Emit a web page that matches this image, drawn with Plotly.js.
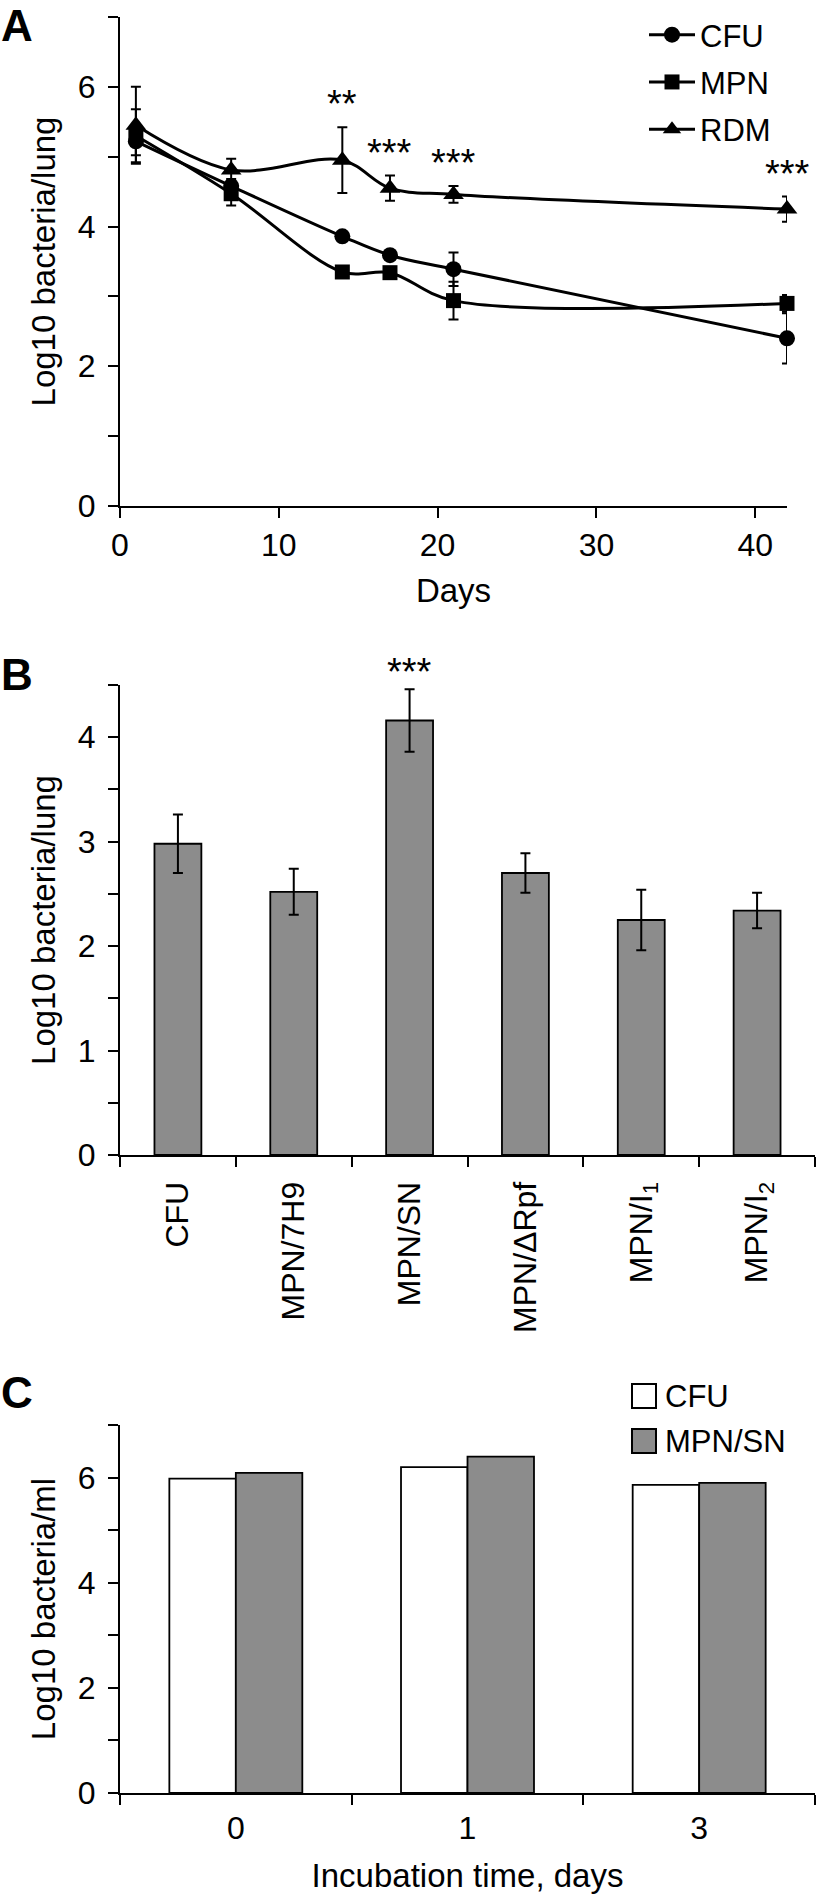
<!DOCTYPE html>
<html>
<head>
<meta charset="utf-8">
<script src="https://cdn.plot.ly/plotly-3.0.1.min.js"></script>
<style>
  html, body { margin: 0; padding: 0; background: #fff; }
  #chart { width: 819px; height: 1894px; }
</style>
</head>
<body>
<div id="chart"></div>
<script>
// ---------- Panel A data ----------
const days = [1, 7, 14, 17, 21, 42];
const cfuA = [5.22, 4.58, 3.86, 3.59, 3.39, 2.40];
const cfuAErr = [0.20, 0.10, 0.05, 0.05, 0.24, 0.36];
const mpnA = [5.30, 4.47, 3.35, 3.34, 2.94, 2.90];
const mpnAErr = [0.38, 0.17, 0.05, 0.05, 0.27, 0.12];
const rdmA = [5.45, 4.81, 4.95, 4.55, 4.46, 4.25];
const rdmAErr = [0.55, 0.16, 0.47, 0.18, 0.12, 0.18];
const seriesNamesA = ['CFU', 'MPN', 'RDM'];
const sigDaysA = [14, 17, 21, 42];
const sigTextA = ['**', '***', '***', '***'];
const xTicksA = [0, 10, 20, 30, 40];
const yTicksA = [0, 1, 2, 3, 4, 5, 6, 7];
const yTickTextA = ['0', '', '2', '', '4', '', '6', ''];

// ---------- Panel B data ----------
const catsB = ['CFU', 'MPN/7H9', 'MPN/SN', 'MPN/ΔRpf', 'MPN/I<sub>1</sub>', 'MPN/I<sub>2</sub>'];
const valsB = [2.98, 2.52, 4.16, 2.70, 2.25, 2.34];
const errB = [0.28, 0.22, 0.30, 0.19, 0.29, 0.17];
const sigCatsB = ['MPN/SN'];
const sigTextB = ['***'];
const yTicksB = [0, 0.5, 1, 1.5, 2, 2.5, 3, 3.5, 4, 4.5];
const yTickTextB = ['0', '', '1', '', '2', '', '3', '', '4', ''];

// ---------- Panel C data ----------
const catsC = ['0', '1', '3'];
const cfuC = [5.98, 6.20, 5.86];
const mpnSnC = [6.09, 6.40, 5.90];
const seriesNamesC = ['CFU', 'MPN/SN'];
const yTicksC = [0, 1, 2, 3, 4, 5, 6, 7];
const yTickTextC = ['0', '', '2', '', '4', '', '6', ''];

// ---------- styling ----------
const FONT = 'Liberation Sans, Arial, Helvetica, sans-serif';
const GRAY = '#8c8c8c';
const W = 819, H = 1894;
const TICK = 32, TITLE = 33, LEG = 31;

function errCfg(arr) {
  return { type: 'data', array: arr, visible: true, color: '#000', thickness: 2, width: 5 };
}
function lineTrace(y, err, name, symbol, size) {
  return {
    x: days, y: y, name: name, type: 'scatter', mode: 'lines+markers',
    xaxis: 'x', yaxis: 'y', legend: 'legend', legendgroup: name,
    line: { color: '#000', width: 3, shape: 'spline', smoothing: 1 },
    marker: { symbol: symbol, size: size, color: '#000' },
    error_y: errCfg(err), cliponaxis: false
  };
}

const traces = [
  lineTrace(cfuA, cfuAErr, seriesNamesA[0], 'circle', 16),
  lineTrace(mpnA, mpnAErr, seriesNamesA[1], 'square', 15),
  lineTrace(rdmA, rdmAErr, seriesNamesA[2], 'triangle-up', 18),
  {
    x: catsB, y: valsB, type: 'bar', xaxis: 'x2', yaxis: 'y2', showlegend: false,
    width: 0.405,
    marker: { color: GRAY, line: { color: '#000', width: 1.8 } },
    error_y: { type: 'data', array: errB, visible: true, color: '#000', thickness: 2, width: 5 }
  },
  {
    x: catsC, y: cfuC, name: seriesNamesC[0], type: 'bar', xaxis: 'x3', yaxis: 'y3', showlegend: false,
    width: 0.287, offset: -0.287,
    marker: { color: '#fff', line: { color: '#000', width: 1.8 } }
  },
  {
    x: catsC, y: mpnSnC, name: seriesNamesC[1], type: 'bar', xaxis: 'x3', yaxis: 'y3', showlegend: false,
    width: 0.287, offset: 0,
    marker: { color: GRAY, line: { color: '#000', width: 1.8 } }
  }
];

function axBase(extra) {
  return Object.assign({
    showline: true, linecolor: '#000', linewidth: 2,
    ticks: 'outside', ticklen: 10, tickwidth: 2, tickcolor: '#000',
    showgrid: false, zeroline: false, fixedrange: true,
    tickfont: { family: FONT, size: TICK, color: '#000' }
  }, extra);
}
const titleFont = { family: FONT, size: TITLE, color: '#000' };

// paper-pixel helpers for domains
const px = v => v / W;
const py = v => 1 - v / H;

const annotations = [];
// significance marks panel A
sigDaysA.forEach((d, i) => {
  const k = days.indexOf(d);
  annotations.push({
    xref: 'x', yref: 'y', x: d, y: rdmA[k] + rdmAErr[k], text: sigTextA[i],
    showarrow: false, xanchor: 'center', yanchor: 'bottom', yshift: 0,
    font: { family: FONT, size: 38, color: '#000' }
  });
});
// significance marks panel B
sigCatsB.forEach((c, i) => {
  const k = catsB.indexOf(c);
  annotations.push({
    xref: 'x2', yref: 'y2', x: c, y: valsB[k] + errB[k], text: sigTextB[i],
    showarrow: false, xanchor: 'center', yanchor: 'bottom', yshift: -6,
    font: { family: FONT, size: 38, color: '#000' }
  });
});
// panel letters
[['A', 0], ['B', 649], ['C', 1367]].forEach(([t, top]) => {
  annotations.push({
    xref: 'paper', yref: 'paper', x: 0, y: py(top), text: '<b>' + t + '</b>',
    showarrow: false, xanchor: 'left', yanchor: 'top', borderpad: 0,
    font: { family: FONT, size: 44, color: '#000' }
  });
});
// manual legend for panel C
const shapes = [];
const legC = [{ fill: '#fff', cy: 1396 }, { fill: GRAY, cy: 1441 }];
seriesNamesC.forEach((n, i) => {
  const cy = legC[i].cy;
  shapes.push({
    type: 'rect', xref: 'paper', yref: 'paper',
    x0: px(632), x1: px(656), y0: py(cy + 12), y1: py(cy - 12),
    fillcolor: legC[i].fill, line: { color: '#000', width: 2 }
  });
  annotations.push({
    xref: 'paper', yref: 'paper', x: px(663), y: py(cy), text: n,
    showarrow: false, xanchor: 'left', yanchor: 'middle',
    font: { family: FONT, size: LEG, color: '#000' }
  });
});

const layout = {
  width: W, height: H,
  margin: { l: 0, r: 0, t: 0, b: 0, pad: 0 },
  paper_bgcolor: '#fff', plot_bgcolor: '#fff',
  font: { family: FONT, size: TICK, color: '#000' },
  showlegend: true,
  xaxis: axBase({
    domain: [px(120), px(787)], anchor: 'y', range: [0, 42],
    tickmode: 'array', tickvals: xTicksA,
    title: { text: 'Days', font: titleFont, standoff: 16 }
  }),
  yaxis: axBase({
    domain: [py(506), py(17)], anchor: 'x', range: [0, 7],
    tickmode: 'array', tickvals: yTicksA, ticktext: yTickTextA, ticklabelstandoff: 6,
    title: { text: 'Log10 bacteria/lung', font: titleFont, standoff: 12 }
  }),
  xaxis2: axBase({
    domain: [px(120), px(815)], anchor: 'y2', type: 'category',
    tickson: 'boundaries', tickangle: -90, categoryorder: 'array', categoryarray: catsB,
    ticklabelstandoff: 12
  }),
  yaxis2: axBase({
    domain: [py(1155), py(685)], anchor: 'x2', range: [0, 4.5],
    tickmode: 'array', tickvals: yTicksB, ticktext: yTickTextB, ticklabelstandoff: 6,
    title: { text: 'Log10 bacteria/lung', font: titleFont, standoff: 12 }
  }),
  xaxis3: axBase({
    domain: [px(120), px(815)], anchor: 'y3', type: 'category',
    tickson: 'boundaries', categoryorder: 'array', categoryarray: catsC,
    ticklabelstandoff: 6,
    title: { text: 'Incubation time, days', font: titleFont, standoff: 30 }
  }),
  yaxis3: axBase({
    domain: [py(1793), py(1425)], anchor: 'x3', range: [0, 7],
    tickmode: 'array', tickvals: yTicksC, ticktext: yTickTextC, ticklabelstandoff: 6,
    title: { text: 'Log10 bacteria/ml', font: titleFont, standoff: 12 }
  }),
  legend: {
    x: px(644), xanchor: 'left', y: py(8), yanchor: 'top',
    bgcolor: 'rgba(0,0,0,0)', borderwidth: 0,
    font: { family: FONT, size: LEG, color: '#000' },
    itemwidth: 46, traceorder: 'grouped', tracegroupgap: 4, itemsizing: 'trace'
  },
  annotations: annotations,
  shapes: shapes
};

Plotly.newPlot('chart', traces, layout, { staticPlot: true, displayModeBar: false });
</script>
</body>
</html>
